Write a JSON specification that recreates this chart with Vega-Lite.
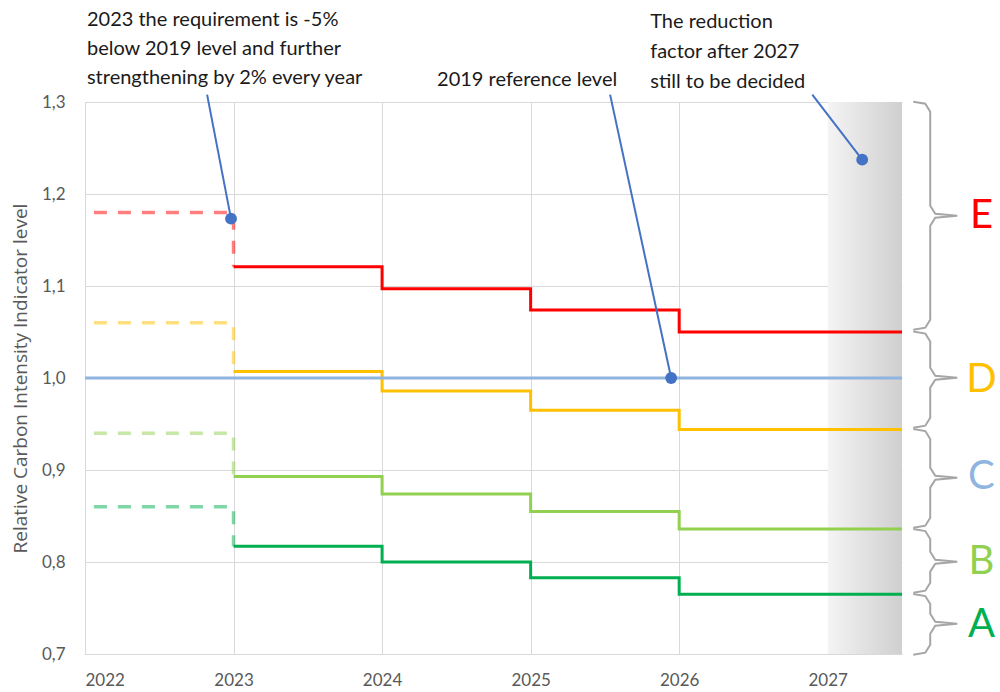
{
  "$schema": "https://vega.github.io/schema/vega-lite/v6.json",
  "width": 817,
  "height": 552,
  "autosize": {"type": "none"},
  "padding": {"left": 85, "top": 102, "right": 98, "bottom": 38},
  "background": "white",
  "config": {
    "font": "Lato",
    "view": {"stroke": null},
    "axis": {"grid": true, "gridColor": "#d9d9d9", "gridWidth": 1, "domainColor": "#d9d9d9", "ticks": false, "labelColor": "#595959", "labelFontSize": 17, "labelFont": "Lato"}
  },
  "datasets": {
    "shade": [
      {"year": 2027, "year2": 2027.5, "value": 0.7, "value2": 1.3}
    ],
    "lines": [
      {"series": "E", "kind": "solid", "i": 1, "year": 2023, "value": 1.121},
      {"series": "E", "kind": "solid", "i": 2, "year": 2024, "value": 1.097},
      {"series": "E", "kind": "solid", "i": 3, "year": 2025, "value": 1.074},
      {"series": "E", "kind": "solid", "i": 4, "year": 2026, "value": 1.05},
      {"series": "E", "kind": "solid", "i": 5, "year": 2027.5, "value": 1.05},
      {"series": "D", "kind": "solid", "i": 1, "year": 2023, "value": 1.007},
      {"series": "D", "kind": "solid", "i": 2, "year": 2024, "value": 0.986},
      {"series": "D", "kind": "solid", "i": 3, "year": 2025, "value": 0.965},
      {"series": "D", "kind": "solid", "i": 4, "year": 2026, "value": 0.944},
      {"series": "D", "kind": "solid", "i": 5, "year": 2027.5, "value": 0.944},
      {"series": "C", "kind": "solid", "i": 1, "year": 2022, "value": 1.0},
      {"series": "C", "kind": "solid", "i": 2, "year": 2027.5, "value": 1.0},
      {"series": "B", "kind": "solid", "i": 1, "year": 2023, "value": 0.893},
      {"series": "B", "kind": "solid", "i": 2, "year": 2024, "value": 0.874},
      {"series": "B", "kind": "solid", "i": 3, "year": 2025, "value": 0.855},
      {"series": "B", "kind": "solid", "i": 4, "year": 2026, "value": 0.836},
      {"series": "B", "kind": "solid", "i": 5, "year": 2027.5, "value": 0.836},
      {"series": "A", "kind": "solid", "i": 1, "year": 2023, "value": 0.817},
      {"series": "A", "kind": "solid", "i": 2, "year": 2024, "value": 0.8},
      {"series": "A", "kind": "solid", "i": 3, "year": 2025, "value": 0.783},
      {"series": "A", "kind": "solid", "i": 4, "year": 2026, "value": 0.765},
      {"series": "A", "kind": "solid", "i": 5, "year": 2027.5, "value": 0.765},
      {"series": "E", "kind": "dashed", "i": 1, "year": 2022.06, "value": 1.18},
      {"series": "E", "kind": "dashed", "i": 2, "year": 2023, "value": 1.18},
      {"series": "E", "kind": "dashed", "i": 3, "year": 2023, "value": 1.121},
      {"series": "D", "kind": "dashed", "i": 1, "year": 2022.06, "value": 1.06},
      {"series": "D", "kind": "dashed", "i": 2, "year": 2023, "value": 1.06},
      {"series": "D", "kind": "dashed", "i": 3, "year": 2023, "value": 1.007},
      {"series": "B", "kind": "dashed", "i": 1, "year": 2022.06, "value": 0.94},
      {"series": "B", "kind": "dashed", "i": 2, "year": 2023, "value": 0.94},
      {"series": "B", "kind": "dashed", "i": 3, "year": 2023, "value": 0.893},
      {"series": "A", "kind": "dashed", "i": 1, "year": 2022.06, "value": 0.86},
      {"series": "A", "kind": "dashed", "i": 2, "year": 2023, "value": 0.86},
      {"series": "A", "kind": "dashed", "i": 3, "year": 2023, "value": 0.817}
    ],
    "braces": [
      {"b": "E", "i": 1, "year": 2027.576, "value": 1.3003},
      {"b": "E", "i": 2, "year": 2027.657, "value": 1.2981},
      {"b": "E", "i": 3, "year": 2027.69, "value": 1.2895},
      {"b": "E", "i": 4, "year": 2027.69, "value": 1.1873},
      {"b": "E", "i": 5, "year": 2027.724, "value": 1.1786},
      {"b": "E", "i": 6, "year": 2027.872, "value": 1.1764},
      {"b": "E", "i": 7, "year": 2027.724, "value": 1.1742},
      {"b": "E", "i": 8, "year": 2027.69, "value": 1.1655},
      {"b": "E", "i": 9, "year": 2027.69, "value": 1.0634},
      {"b": "E", "i": 10, "year": 2027.657, "value": 1.0547},
      {"b": "E", "i": 11, "year": 2027.576, "value": 1.0525},
      {"b": "D", "i": 1, "year": 2027.576, "value": 1.0505},
      {"b": "D", "i": 2, "year": 2027.657, "value": 1.0483},
      {"b": "D", "i": 3, "year": 2027.69, "value": 1.0396},
      {"b": "D", "i": 4, "year": 2027.69, "value": 1.0112},
      {"b": "D", "i": 5, "year": 2027.724, "value": 1.0025},
      {"b": "D", "i": 6, "year": 2027.872, "value": 1.0003},
      {"b": "D", "i": 7, "year": 2027.724, "value": 0.9982},
      {"b": "D", "i": 8, "year": 2027.69, "value": 0.9895},
      {"b": "D", "i": 9, "year": 2027.69, "value": 0.9568},
      {"b": "D", "i": 10, "year": 2027.657, "value": 0.9482},
      {"b": "D", "i": 11, "year": 2027.576, "value": 0.946},
      {"b": "C", "i": 1, "year": 2027.576, "value": 0.9445},
      {"b": "C", "i": 2, "year": 2027.657, "value": 0.9423},
      {"b": "C", "i": 3, "year": 2027.69, "value": 0.9336},
      {"b": "C", "i": 4, "year": 2027.69, "value": 0.9025},
      {"b": "C", "i": 5, "year": 2027.724, "value": 0.8938},
      {"b": "C", "i": 6, "year": 2027.872, "value": 0.8916},
      {"b": "C", "i": 7, "year": 2027.724, "value": 0.8895},
      {"b": "C", "i": 8, "year": 2027.69, "value": 0.8808},
      {"b": "C", "i": 9, "year": 2027.69, "value": 0.8482},
      {"b": "C", "i": 10, "year": 2027.657, "value": 0.8395},
      {"b": "C", "i": 11, "year": 2027.576, "value": 0.8373},
      {"b": "B", "i": 1, "year": 2027.576, "value": 0.8358},
      {"b": "B", "i": 2, "year": 2027.657, "value": 0.8336},
      {"b": "B", "i": 3, "year": 2027.69, "value": 0.8249},
      {"b": "B", "i": 4, "year": 2027.69, "value": 0.8112},
      {"b": "B", "i": 5, "year": 2027.724, "value": 0.8025},
      {"b": "B", "i": 6, "year": 2027.872, "value": 0.8003},
      {"b": "B", "i": 7, "year": 2027.724, "value": 0.7982},
      {"b": "B", "i": 8, "year": 2027.69, "value": 0.7895},
      {"b": "B", "i": 9, "year": 2027.69, "value": 0.7775},
      {"b": "B", "i": 10, "year": 2027.657, "value": 0.7688},
      {"b": "B", "i": 11, "year": 2027.576, "value": 0.7666},
      {"b": "A", "i": 1, "year": 2027.576, "value": 0.7651},
      {"b": "A", "i": 2, "year": 2027.657, "value": 0.763},
      {"b": "A", "i": 3, "year": 2027.69, "value": 0.7543},
      {"b": "A", "i": 4, "year": 2027.69, "value": 0.7438},
      {"b": "A", "i": 5, "year": 2027.724, "value": 0.7351},
      {"b": "A", "i": 6, "year": 2027.872, "value": 0.7329},
      {"b": "A", "i": 7, "year": 2027.724, "value": 0.7308},
      {"b": "A", "i": 8, "year": 2027.69, "value": 0.7221},
      {"b": "A", "i": 9, "year": 2027.69, "value": 0.7101},
      {"b": "A", "i": 10, "year": 2027.657, "value": 0.7014},
      {"b": "A", "i": 11, "year": 2027.576, "value": 0.6992}
    ],
    "letters": [
      {"series": "E", "year": 2028.035, "value": 1.176},
      {"series": "D", "year": 2028.035, "value": 0.998},
      {"series": "C", "year": 2028.035, "value": 0.892},
      {"series": "B", "year": 2028.035, "value": 0.8},
      {"series": "A", "year": 2028.035, "value": 0.732}
    ],
    "notes": [
      {"label": "2023 the requirement is -5%", "year": 2022.013, "value": 1.3895},
      {"label": "below 2019 level and further", "year": 2022.013, "value": 1.358},
      {"label": "strengthening by 2% every year", "year": 2022.013, "value": 1.3264},
      {"label": "2019 reference level", "year": 2024.37, "value": 1.3242},
      {"label": "The reduction", "year": 2025.805, "value": 1.3873},
      {"label": "factor after 2027", "year": 2025.805, "value": 1.3547},
      {"label": "still to be decided", "year": 2025.805, "value": 1.322}
    ],
    "pointers": [
      {"p": "p1", "i": 1, "year": 2022.822, "value": 1.308},
      {"p": "p1", "i": 2, "year": 2022.983, "value": 1.1732},
      {"p": "p2", "i": 1, "year": 2025.535, "value": 1.308},
      {"p": "p2", "i": 2, "year": 2025.946, "value": 1.0},
      {"p": "p3", "i": 1, "year": 2026.896, "value": 1.308},
      {"p": "p3", "i": 2, "year": 2027.232, "value": 1.2373}
    ]
  },
  "encoding": {
    "x": {"field": "year", "type": "quantitative", "scale": {"domain": [2022, 2027.5], "nice": false, "zero": false},
      "axis": {"values": [2022, 2023, 2024, 2025, 2026, 2027], "format": "d", "title": null, "labelPadding": 18}},
    "y": {"field": "value", "type": "quantitative", "scale": {"domain": [0.7, 1.3], "nice": false, "zero": false},
      "axis": {"values": [0.7, 0.8, 0.9, 1.0, 1.1, 1.2, 1.3], "labelExpr": "replace(format(datum.value, '.1f'), '.', ',')", "labelPadding": 20,
        "title": "Relative Carbon Intensity Indicator level", "titleFontSize": 19, "titleFontWeight": "normal", "titleColor": "#595959", "titlePadding": 11, "titleFont": "Open Sans"}}
  },
  "layer": [
    {
      "data": {"name": "shade"},
      "mark": {"type": "rect", "fill": {"gradient": "linear", "x1": 0, "x2": 1, "y1": 0, "y2": 0, "stops": [{"offset": 0, "color": "#f4f4f4"}, {"offset": 1, "color": "#cfcfcf"}]}, "opacity": 1},
      "encoding": {
        "x2": {"field": "year2"},
        "y2": {"field": "value2"}
      }
    },
    {
      "data": {"name": "lines"},
      "transform": [{"filter": "datum.kind === 'dashed'"}],
      "mark": {"type": "line", "strokeWidth": 3.5, "strokeDash": [13, 11], "opacity": 0.5},
      "encoding": {
        "color": {"field": "series", "type": "nominal", "scale": {"domain": ["E", "D", "C", "B", "A"], "range": ["#ff0000", "#ffc000", "#8fb4e0", "#92d050", "#00b050"]}, "legend": null},
        "order": {"field": "i", "type": "quantitative"}
      }
    },
    {
      "data": {"name": "lines"},
      "transform": [{"filter": "datum.kind === 'solid'"}],
      "mark": {"type": "line", "strokeWidth": 3, "interpolate": "step-after"},
      "encoding": {
        "color": {"field": "series", "type": "nominal", "legend": null},
        "order": {"field": "i", "type": "quantitative"}
      }
    },
    {
      "data": {"name": "braces"},
      "mark": {"type": "line", "strokeWidth": 2, "color": "#a6a6a6", "clip": false},
      "encoding": {
        "detail": {"field": "b", "type": "nominal"},
        "order": {"field": "i", "type": "quantitative"}
      }
    },
    {
      "data": {"name": "letters"},
      "mark": {"type": "text", "fontSize": 40, "fontWeight": "normal", "align": "center", "baseline": "middle", "font": "Lato"},
      "encoding": {
        "text": {"field": "series", "type": "nominal"},
        "color": {"field": "series", "type": "nominal", "legend": null}
      }
    },
    {
      "data": {"name": "pointers"},
      "mark": {"type": "line", "strokeWidth": 2, "color": "#4472c4"},
      "encoding": {
        "detail": {"field": "p", "type": "nominal"},
        "order": {"field": "i", "type": "quantitative"}
      }
    },
    {
      "data": {"name": "pointers"},
      "transform": [{"filter": "datum.i === 2"}],
      "mark": {"type": "point", "filled": true, "size": 140, "color": "#4472c4", "opacity": 1}
    },
    {
      "data": {"name": "notes"},
      "mark": {"type": "text", "fontSize": 20, "align": "left", "baseline": "middle", "color": "#1a1a1a", "font": "Lato"},
      "encoding": {"text": {"field": "label", "type": "nominal"}}
    }
  ]
}
